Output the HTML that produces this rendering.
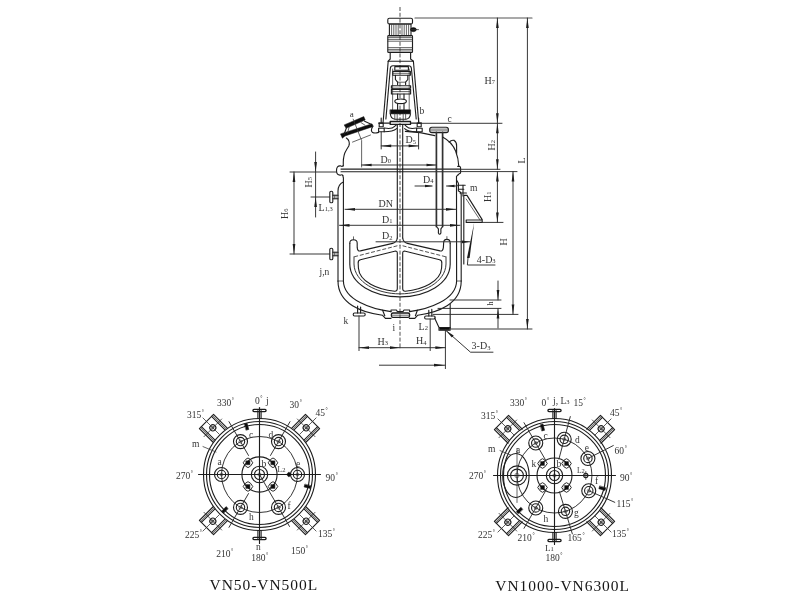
<!DOCTYPE html>
<html><head><meta charset="utf-8"><title>VN reactor</title>
<style>
html,body{margin:0;padding:0;background:#fff;}
body{width:800px;height:600px;overflow:hidden;font-family:"Liberation Serif",serif;}
svg{display:block;}
svg line,svg path,svg circle,svg ellipse,svg rect,svg polyline{fill:none;stroke:#1f1f1f;stroke-width:1.12;stroke-linecap:round;stroke-linejoin:round;}
svg .d{stroke:#2c2c2c;stroke-width:0.95;}
svg .t{stroke-width:0.75;stroke:#333;}
svg .k{stroke-width:1.3;stroke:#1a1a1a;}
svg .cl{stroke-dasharray:4 1.8;stroke-width:0.85;stroke:#333;stroke-linecap:butt;}
svg .b{fill:#111;stroke:#111;stroke-width:0.5;}
svg .ah{fill:#1e1e1e;stroke:none;}
svg .w{fill:#fff;}
svg text{font-family:"Liberation Serif",serif;fill:#333;stroke:none;}
</style></head><body>
<svg width="800" height="600" viewBox="0 0 800 600">
<rect x="0" y="0" width="800" height="600" style="fill:#fff;stroke:none"/>
<g filter="url(#soft)">
<g id="main">
<line x1="400.00" y1="7.00" x2="400.00" y2="349.00" class="cl"/>
<rect x="387.8" y="18.2" width="24.7" height="5.8" rx="1.6"/>
<rect x="389.4" y="24" width="21.6" height="11.6"/>
<line x1="391.60" y1="24.60" x2="391.60" y2="35.00" class="t"/>
<line x1="393.80" y1="24.60" x2="393.80" y2="35.00" class="t"/>
<line x1="396.00" y1="24.60" x2="396.00" y2="35.00" class="t"/>
<line x1="398.20" y1="24.60" x2="398.20" y2="35.00" class="t"/>
<line x1="402.00" y1="24.60" x2="402.00" y2="35.00" class="t"/>
<line x1="404.20" y1="24.60" x2="404.20" y2="35.00" class="t"/>
<line x1="406.40" y1="24.60" x2="406.40" y2="35.00" class="t"/>
<line x1="408.60" y1="24.60" x2="408.60" y2="35.00" class="t"/>
<ellipse class="b" cx="413.4" cy="29.6" rx="2.9" ry="2.1"/>
<line x1="411.00" y1="29.60" x2="418.50" y2="29.60" class="t"/>
<rect x="387.8" y="35.6" width="24.7" height="16.9" rx="0.8"/>
<line x1="388.00" y1="37.60" x2="412.30" y2="37.60" class="t"/>
<line x1="388.00" y1="39.40" x2="412.30" y2="39.40" class="t"/>
<line x1="388.00" y1="41.20" x2="412.30" y2="41.20" class="t"/>
<line x1="388.00" y1="47.60" x2="412.30" y2="47.60" class="t"/>
<line x1="388.00" y1="49.40" x2="412.30" y2="49.40" class="t"/>
<line x1="388.00" y1="51.00" x2="412.30" y2="51.00" class="t"/>
<path d="M390.2 52.5 L390.2 59 L388.2 61.2 M410.6 52.5 L410.6 59 L413.4 61.2"/>
<line x1="388.20" y1="61.20" x2="413.40" y2="61.20"/>
<path d="M388.2 61.2 L383.2 121 L383 123.1 M413.4 61.2 L418.6 121 L418.9 123.1"/>
<path d="M385.9 119 L390.3 68.5 Q390.5 65.8 393 65.8 L408.6 65.8 Q411.2 65.8 411.4 68.5 L416.2 119"/>
<path class="t" d="M392.6 109.6 L392.6 69 M409.2 109.6 L409.2 69"/>
<rect x="394.8" y="66.6" width="13.6" height="3.6"/>
<rect x="392.8" y="71.4" width="17.6" height="3.8"/>
<line x1="392.80" y1="73.30" x2="410.40" y2="73.30" class="t"/>
<path d="M395.4 75.2 L395.4 79.5 L397.6 82.2 L397.6 84.6 M407.8 75.2 L407.8 79.5 L405.6 82.2 L405.6 84.6"/>
<line x1="397.60" y1="82.20" x2="405.60" y2="82.20" class="t"/>
<rect x="391.4" y="85.8" width="19.2" height="2.4"/>
<rect x="391.4" y="89.4" width="19.2" height="4.6"/>
<line x1="391.40" y1="91.60" x2="410.60" y2="91.60" class="t"/>
<path d="M397.6 94 L397.6 99.2 M404 94 L404 99.2 M397.6 103.4 L397.6 109.6 M404 103.4 L404 109.6"/>
<ellipse cx="400.6" cy="101.3" rx="5.8" ry="2.3" class="w"/>
<rect class="b" x="390.2" y="109.8" width="20.4" height="4.1"/>
<path d="M390.4 114 Q390.6 118.6 395 119.2 L406 119.2 Q410.2 118.6 410.4 114"/>
<path class="t" d="M394.8 114 L394.8 119 M397.2 114 L397.2 121.4 M403.2 114 L403.2 121.4 M405.6 114 L405.6 119"/>
<rect class="k" x="390.2" y="121.5" width="20.3" height="2.9"/>
<line x1="378.60" y1="123.10" x2="390.20" y2="123.10"/>
<line x1="410.50" y1="123.10" x2="421.40" y2="123.10"/>
<rect x="379.2" y="123.1" width="4" height="3.6"/><rect x="378.6" y="128.2" width="5.6" height="3.6"/>
<rect x="417.2" y="123.1" width="4" height="3.6"/><rect x="416.6" y="128.2" width="5.6" height="3.6"/>
<line x1="381.20" y1="118.00" x2="381.20" y2="123.00"/>
<line x1="418.60" y1="118.00" x2="418.60" y2="123.00"/>
<path d="M384.2 128 Q392 129.4 394.6 126.4 L396.6 124.6 M416.6 128 Q409 129.4 406.4 126.4 L404.6 124.6"/>
<path d="M384.2 131.8 Q393 131.6 396.6 128.6 M416.6 131.8 Q408 131.6 404.6 128.6"/>
<path d="M397.3 124.6 L397.3 238 M402.7 124.6 L402.7 238"/>
<polygon class="b" points="344.2,124.9 363.8,116.6 365.2,120 346.1,128.3"/>
<polygon class="b" points="340.5,133.9 372,123.8 373.4,126.4 345,136 342.4,138.2"/>
<path d="M346.3 128.2 L344.2 134 M364.6 121.2 L370.6 123.9"/>
<path class="t" d="M349 127.4 L347.6 133 M361 122.6 L365 125.2"/>
<path class="t" d="M353.2 119.2 L361.6 140.4 L361.6 167"/>
<line x1="352.50" y1="142.10" x2="370.50" y2="135.00" class="t"/>
<path d="M372.6 126.6 Q370.2 130.6 372.6 132.6 Q375 133.6 378.6 132.4"/>
<path d="M346.4 138 Q350.6 141.2 348.8 146 Q346.6 149.4 344.8 153 Q343 158 343.3 165.8"/>
<path d="M343.3 165.8 Q342 166.8 340.6 165.9 Q336.5 165.4 336.5 170.5 Q336.5 175.6 340.6 175.1 Q342 174.2 342.8 175.4"/>
<line x1="341.00" y1="169.10" x2="460.00" y2="169.10"/>
<line x1="341.00" y1="171.80" x2="460.00" y2="171.80"/>
<path d="M457.7 166.4 L459.4 166.4 Q460.6 166.6 460.6 168 L460.6 172.4 Q460.6 173.6 459.4 173.6 L458.3 174.6"/>
<path d="M405.4 131.4 Q420 132 434.8 135.6"/>
<rect x="429.7" y="127.3" width="18.7" height="5.3" rx="2.2"/>
<line x1="430.40" y1="129.10" x2="447.80" y2="129.10" class="t"/>
<line x1="430.40" y1="130.90" x2="447.80" y2="130.90" class="t"/>
<path style="stroke-width:1.7;stroke:#333" d="M436.4 132.4 L436.4 226.5 M442.6 132.4 L442.6 226.5"/>
<path d="M436.4 226.5 L438.4 228.8 L438.4 233 Q439.6 235.6 440.9 233 L440.9 228.8 L442.6 226.5"/>
<path d="M443 137.2 Q452 142 455.6 151 Q458.4 158 458.8 166.4"/>
<path d="M449.2 142.2 Q451.4 139.6 454.2 140.4 Q456.8 142 456.6 146 L456.6 153.6"/>
<path d="M342.8 175.4 L343.4 178 L343.4 281 M456.5 180 L456.6 281"/>
<path d="M343.4 182 Q338 184.4 338 191 L338 281"/>
<path d="M458.3 174.6 L456.5 176.4 L456.5 180 L458.4 183.2 L458.4 191 Q461 191.4 461.2 194.6 L461.2 281"/>
<line x1="338.00" y1="281.00" x2="343.40" y2="281.00" class="t"/>
<line x1="456.60" y1="281.00" x2="461.20" y2="281.00" class="t"/>
<path d="M343.4 281 C343.6 300 372 309.4 391 311.6 M456.6 281 C456.4 300 428 309.4 409.6 311.6"/>
<path d="M338 281 C338 304 362 312.6 382.4 315.2 L385.4 318.4 L391 318.4 M461.2 281 C461.2 304 438 312.6 417.8 315.2 L414.8 318.4 L409.4 318.4"/>
<path d="M382.6 310.2 L384.8 315.8 M417.4 310.2 L415.4 315.8"/>
<rect class="k" x="391.4" y="313" width="18.2" height="4.4" rx="1.6"/>
<line x1="391.60" y1="315.20" x2="409.40" y2="315.20" class="t"/>
<path d="M391 311.6 L391 310 L396.4 310 L397.4 311.6 L403 311.6 L404 310 L409.6 310 L409.6 311.6"/>
<rect x="329.8" y="191.2" width="3" height="11.6" rx="1.4"/>
<path d="M332.8 195.2 L338 195.2 M332.8 198.8 L338 198.8"/>
<path class="t" d="M334.4 195.2 L334.4 198.8 M336 195.2 L336 198.8"/>
<rect x="329.8" y="248.2" width="3" height="11.6" rx="1.4"/>
<path d="M332.8 252.2 L338 252.2 M332.8 255.8 L338 255.8"/>
<path class="t" d="M334.4 252.2 L334.4 255.8 M336 252.2 L336 255.8"/>
<path d="M357.6 306 L357.6 313 M360.6 307 L360.6 313"/>
<rect x="353.2" y="313" width="12" height="3" rx="1.4"/>
<path d="M428.8 310.4 L428.8 316 M431.8 309.4 L431.8 316"/>
<rect x="424.6" y="316" width="10.6" height="3" rx="1.4"/>
<path d="M434.6 318 L439 327.6 L450.2 327.6 M439 330.2 L450.2 330.2 M439 327.6 L439 330.2"/>
<rect class="b" x="440" y="328" width="9.6" height="1.8"/>
<line x1="450.20" y1="304.50" x2="450.20" y2="329.20"/>
<path d="M457.6 185.3 L465.2 185.3 M458.4 189.3 L463.8 189.3 M460 193 L466.4 193 M463 185 L463 196"/>
<path d="M463.8 196 L463.8 264 M463.8 195.4 L467 195.4 L482.2 219.6 L482.2 222.4 L466.2 222.4 L466.2 220 L482 220"/>
<path class="t" d="M466.2 199 L480 220"/>
<path d="M349.8 243.2 Q349.8 239.8 353.5 239.8 Q357.2 239.8 357.2 243.2 L357.2 247.4 Q357.4 251.4 360.4 250.9 L392.6 243.4 Q396.8 242.4 397.3 238"/>
<path d="M450.2 243.2 Q450.2 239.4 446.9 239.4 Q443.6 239.4 443.6 243.2 L443.4 247.4 Q443 251.4 440 250.9 L407.4 243.4 Q403.2 242.4 402.7 238"/>
<path d="M349.8 243.2 L349.8 264 C350 284 374 296.8 400 296.9 C426 296.8 450 284 450.2 264 L450.2 243.2"/>
<path style="stroke-width:0.9" d="M354 256.8 L354 264 C354.4 282 376.5 293.8 400 293.9 C423.5 293.8 445.6 282 446 264 L446 256.8"/>
<path d="M360.4 259.8 L394.6 251.2 Q397.3 250.6 397.3 253 L397.3 288.4 Q397.3 291.4 394.6 291.2 C378 289.8 359.4 282 358.4 268 L358.2 263.4 Q357.8 260.6 360.4 259.8 Z"/>
<path d="M439.6 259.8 L405.4 251.2 Q402.7 250.6 402.7 253 L402.7 288.4 Q402.7 291.4 405.4 291.2 C422 289.8 440.6 282 441.6 268 L441.8 263.4 Q442.2 260.6 439.6 259.8 Z"/>
<path class="cl" d="M354.2 256.8 L399.6 245.2 M445.8 256.8 L400.4 245.2"/>
<line x1="353.50" y1="236.80" x2="353.50" y2="239.80" class="t"/>
<line x1="446.90" y1="236.60" x2="446.90" y2="239.40" class="t"/>
<line x1="415" y1="18" x2="532" y2="18" style="stroke:#555;stroke-width:1.2"/>
<line x1="497.40" y1="18.00" x2="497.40" y2="123.30" class="d"/>
<polygon class="ah" points="497.40,18.00 498.75,28.00 496.05,28.00"/>
<polygon class="ah" points="497.40,123.30 496.05,113.30 498.75,113.30"/>
<line x1="421.40" y1="123.30" x2="502.00" y2="123.30" class="d"/>
<line x1="497.40" y1="123.30" x2="497.40" y2="169.30" class="d"/>
<polygon class="ah" points="497.40,123.30 498.75,133.30 496.05,133.30"/>
<polygon class="ah" points="497.40,169.30 496.05,159.30 498.75,159.30"/>
<line x1="461.00" y1="169.30" x2="500.00" y2="169.30" class="d"/>
<line x1="461.00" y1="171.60" x2="517.00" y2="171.60" class="d"/>
<line x1="497.40" y1="171.60" x2="497.40" y2="222.40" class="d"/>
<polygon class="ah" points="497.40,171.60 498.75,181.60 496.05,181.60"/>
<polygon class="ah" points="497.40,222.40 496.05,212.40 498.75,212.40"/>
<line x1="482.00" y1="222.40" x2="503.00" y2="222.40" class="d"/>
<line x1="513.00" y1="171.60" x2="513.00" y2="314.40" class="d"/>
<polygon class="ah" points="513.00,171.60 514.35,181.60 511.65,181.60"/>
<polygon class="ah" points="513.00,314.40 511.65,304.40 514.35,304.40"/>
<line x1="527.40" y1="18.00" x2="527.40" y2="329.00" class="d"/>
<polygon class="ah" points="527.40,18.00 528.75,28.00 526.05,28.00"/>
<polygon class="ah" points="527.40,329.00 526.05,319.00 528.75,319.00"/>
<line x1="433.00" y1="314.40" x2="518.00" y2="314.40" class="d"/>
<line x1="450.20" y1="329.00" x2="532.00" y2="329.00" class="d"/>
<line x1="450.00" y1="300.00" x2="501.00" y2="300.00" class="d"/>
<line x1="438.00" y1="308.40" x2="501.00" y2="308.40" class="d"/>
<line x1="498.00" y1="281.00" x2="498.00" y2="300.00" class="d"/>
<polygon class="ah" points="498.00,300.00 496.65,290.00 499.35,290.00"/>
<line x1="498.00" y1="308.40" x2="498.00" y2="328.00" class="d"/>
<polygon class="ah" points="498.00,308.40 499.35,318.40 496.65,318.40"/>
<line x1="290.00" y1="172.00" x2="336.50" y2="172.00" class="d"/>
<line x1="294.00" y1="172.00" x2="294.00" y2="254.00" class="d"/>
<polygon class="ah" points="294.00,172.00 295.35,182.00 292.65,182.00"/>
<polygon class="ah" points="294.00,254.00 292.65,244.00 295.35,244.00"/>
<line x1="290.00" y1="254.00" x2="329.80" y2="254.00" class="d"/>
<line x1="315.60" y1="152.00" x2="315.60" y2="197.00" class="d"/>
<polygon class="ah" points="315.60,172.00 314.25,162.00 316.95,162.00"/>
<line x1="315.60" y1="197.00" x2="315.60" y2="217.00" class="d"/>
<polygon class="ah" points="315.60,197.00 316.95,207.00 314.25,207.00"/>
<line x1="311.00" y1="197.00" x2="329.80" y2="197.00" class="d"/>
<line x1="345.00" y1="209.30" x2="456.00" y2="209.30" class="d"/>
<polygon class="ah" points="345.00,209.30 355.00,207.95 355.00,210.65"/>
<polygon class="ah" points="456.00,209.30 446.00,210.65 446.00,207.95"/>
<line x1="339.50" y1="225.30" x2="460.00" y2="225.30" class="d"/>
<polygon class="ah" points="339.50,225.30 349.50,223.95 349.50,226.65"/>
<polygon class="ah" points="460.00,225.30 450.00,226.65 450.00,223.95"/>
<line x1="376.00" y1="241.80" x2="470.00" y2="241.80" class="d"/>
<polygon class="ah" points="470.00,241.80 462.00,243.15 462.00,240.45"/>
<line x1="361.60" y1="165.00" x2="436.50" y2="165.00" class="d"/>
<polygon class="ah" points="361.60,165.00 371.60,163.65 371.60,166.35"/>
<polygon class="ah" points="436.50,165.00 426.50,166.35 426.50,163.65"/>
<line x1="381.20" y1="132.00" x2="381.20" y2="149.00" class="d"/>
<line x1="418.60" y1="132.00" x2="418.60" y2="149.00" class="d"/>
<line x1="381.20" y1="145.90" x2="418.60" y2="145.90" class="d"/>
<polygon class="ah" points="381.20,145.90 391.20,144.55 391.20,147.25"/>
<polygon class="ah" points="418.60,145.90 408.60,147.25 408.60,144.55"/>
<line x1="415.00" y1="186.00" x2="432.00" y2="186.00" class="d"/>
<polygon class="ah" points="433.00,186.00 425.00,187.35 425.00,184.65"/>
<line x1="446.50" y1="186.00" x2="457.00" y2="186.00" class="d"/>
<polygon class="ah" points="446.50,186.00 454.50,184.65 454.50,187.35"/>
<line x1="359.00" y1="316.00" x2="359.00" y2="350.60" class="d"/>
<line x1="430.20" y1="319.00" x2="430.20" y2="350.60" class="d"/>
<line x1="445.40" y1="330.00" x2="445.40" y2="368.60" class="d"/>
<line x1="359.00" y1="347.70" x2="400.00" y2="347.70" class="d"/>
<polygon class="ah" points="359.00,347.70 369.00,346.35 369.00,349.05"/>
<polygon class="ah" points="400.00,347.70 390.00,349.05 390.00,346.35"/>
<line x1="400.00" y1="347.70" x2="445.40" y2="347.70" class="d"/>
<polygon class="ah" points="445.40,347.70 435.40,349.05 435.40,346.35"/>
<line x1="379.40" y1="365.20" x2="445.00" y2="365.20" class="d"/>
<polygon class="ah" points="445.00,365.20 434.00,366.55 434.00,363.85"/>
<path class="d" d="M495 265 L467.4 265 L468 258"/>
<polygon class="ah" points="474.2,222.6 469.6,258 467,258"/>
<path class="d" d="M493 352.2 L470.5 352.2 L446 330.6"/>
<polygon class="ah" points="446.00,330.60 453.68,335.50 451.83,337.60"/>
<text x="349.8" y="116.8" font-size="9" text-anchor="start">a</text>
<text x="419.4" y="113.6" font-size="9.5" text-anchor="start">b</text>
<text x="447.6" y="122.0" font-size="9.5" text-anchor="start">c</text>
<text x="405.6" y="143.4" font-size="10" text-anchor="start">D<tspan font-size="6.5" dy="0.3">5</tspan></text>
<text x="380.6" y="163.0" font-size="10" text-anchor="start">D<tspan font-size="6.5" dy="0.3">0</tspan></text>
<text x="423.0" y="182.6" font-size="10" text-anchor="start">D<tspan font-size="6.5" dy="0.3">4</tspan></text>
<text x="378.6" y="206.6" font-size="10" text-anchor="start">DN</text>
<text x="382.0" y="223.0" font-size="10" text-anchor="start">D<tspan font-size="6.5" dy="0.3">1</tspan></text>
<text x="382.0" y="239.4" font-size="10" text-anchor="start">D<tspan font-size="6.5" dy="0.3">2</tspan></text>
<text x="470.0" y="190.6" font-size="9.5" text-anchor="start">m</text>
<text x="318.6" y="211.0" font-size="10" text-anchor="start">L<tspan font-size="6.5" dy="0.3">1,3</tspan></text>
<text x="319.6" y="275.4" font-size="9.5" text-anchor="start">j,n</text>
<text x="343.6" y="323.6" font-size="9.5" text-anchor="start">k</text>
<text x="392.4" y="330.6" font-size="9.5" text-anchor="start">i</text>
<text x="418.6" y="329.8" font-size="10" text-anchor="start">L<tspan font-size="6.5" dy="0.3">2</tspan></text>
<text x="377.6" y="345.0" font-size="10" text-anchor="start">H<tspan font-size="6.5" dy="0.3">3</tspan></text>
<text x="416.0" y="344.4" font-size="10" text-anchor="start">H<tspan font-size="6.5" dy="0.3">4</tspan></text>
<text x="476.8" y="262.6" font-size="10" text-anchor="start">4-D<tspan font-size="6.5" dy="0.3">3</tspan></text>
<text x="471.6" y="349.4" font-size="10" text-anchor="start">3-D<tspan font-size="6.5" dy="0.3">3</tspan></text>
<text x="484.4" y="84.0" font-size="10" text-anchor="start">H<tspan font-size="6.5" dy="0.3">7</tspan></text>
<text x="495.0" y="150.4" font-size="10" text-anchor="start" transform="rotate(-90 495.0 150.4)">H<tspan font-size="6.5" dy="0.3">2</tspan></text>
<text x="491.0" y="202.0" font-size="10" text-anchor="start" transform="rotate(-90 491.0 202.0)">H<tspan font-size="6.5" dy="0.3">1</tspan></text>
<text x="506.8" y="245.4" font-size="10" text-anchor="start" transform="rotate(-90 506.8 245.4)">H</text>
<text x="524.6" y="163.6" font-size="10" text-anchor="start" transform="rotate(-90 524.6 163.6)">L</text>
<text x="493.4" y="305.6" font-size="8" text-anchor="start" transform="rotate(-90 493.4 305.6)">h</text>
<text x="312.0" y="187.6" font-size="10" text-anchor="start" transform="rotate(-90 312.0 187.6)">H<tspan font-size="6.5" dy="0.3">5</tspan></text>
<text x="288.2" y="219.0" font-size="10" text-anchor="start" transform="rotate(-90 288.2 219.0)">H<tspan font-size="6.5" dy="0.3">6</tspan></text>
</g>
<g>
<circle cx="259.5" cy="474.5" r="56"/>
<circle cx="259.5" cy="474.5" r="53"/>
<circle cx="259.5" cy="474.5" r="50"/>
<circle cx="259.5" cy="474.5" r="38" style="stroke-width:0.9"/>
<circle cx="259.5" cy="474.5" r="17.6"/>
<circle cx="259.50" cy="474.50" r="8.2"/><circle cx="259.50" cy="474.50" r="5"/><circle class="t" cx="259.50" cy="474.50" r="1.6500000000000001" style="stroke-width:0.6"/>
<line x1="198.50" y1="474.50" x2="320.50" y2="474.50"/>
<line x1="259.50" y1="407.50" x2="259.50" y2="543.50"/>
<rect class="k" x="252.9" y="409.3" width="13.2" height="2.4" rx="1.1"/>
<path d="M257.9 418.5 L257.9 410.5 M261.1 418.5 L261.1 410.5"/>
<rect class="k" x="252.9" y="537.3" width="13.2" height="2.4" rx="1.1"/>
<path d="M257.9 530.5 L257.9 538.5 M261.1 530.5 L261.1 538.5"/>
<g transform="translate(259.50 474.50) rotate(45)">
<path d="M-10 -55.6 L-10 -75 L10 -75 L10 -55.6"/>
<path class="t" d="M-8.6 -56 L-8.6 -75 M8.6 -56 L8.6 -75"/><path d="M-7.2 -56.4 L-7.2 -75 M7.2 -56.4 L7.2 -75"/>
<circle cx="0" cy="-66" r="3"/>
<circle class="t" cx="0" cy="-66" r="1.2"/>
<path class="t" d="M0 -57 L0 -80 M-12.5 -66 L12.5 -66"/>
</g>
<g transform="translate(259.50 474.50) rotate(135)">
<path d="M-10 -55.6 L-10 -75 L10 -75 L10 -55.6"/>
<path class="t" d="M-8.6 -56 L-8.6 -75 M8.6 -56 L8.6 -75"/><path d="M-7.2 -56.4 L-7.2 -75 M7.2 -56.4 L7.2 -75"/>
<circle cx="0" cy="-66" r="3"/>
<circle class="t" cx="0" cy="-66" r="1.2"/>
<path class="t" d="M0 -57 L0 -80 M-12.5 -66 L12.5 -66"/>
</g>
<g transform="translate(259.50 474.50) rotate(225)">
<path d="M-10 -55.6 L-10 -75 L10 -75 L10 -55.6"/>
<path class="t" d="M-8.6 -56 L-8.6 -75 M8.6 -56 L8.6 -75"/><path d="M-7.2 -56.4 L-7.2 -75 M7.2 -56.4 L7.2 -75"/>
<circle cx="0" cy="-66" r="3"/>
<circle class="t" cx="0" cy="-66" r="1.2"/>
<path class="t" d="M0 -57 L0 -80 M-12.5 -66 L12.5 -66"/>
</g>
<g transform="translate(259.50 474.50) rotate(315)">
<path d="M-10 -55.6 L-10 -75 L10 -75 L10 -55.6"/>
<path class="t" d="M-8.6 -56 L-8.6 -75 M8.6 -56 L8.6 -75"/><path d="M-7.2 -56.4 L-7.2 -75 M7.2 -56.4 L7.2 -75"/>
<circle cx="0" cy="-66" r="3"/>
<circle class="t" cx="0" cy="-66" r="1.2"/>
<path class="t" d="M0 -57 L0 -80 M-12.5 -66 L12.5 -66"/>
</g>
<circle cx="221.50" cy="474.50" r="7"/><circle cx="221.50" cy="474.50" r="4.2"/><circle class="t" cx="221.50" cy="474.50" r="1.5" style="stroke-width:0.6"/>
<circle cx="297.50" cy="474.50" r="7"/><circle cx="297.50" cy="474.50" r="4.2"/><circle class="t" cx="297.50" cy="474.50" r="1.5" style="stroke-width:0.6"/>
<circle cx="240.50" cy="441.59" r="7"/><circle cx="240.50" cy="441.59" r="4.2"/><circle class="t" cx="240.50" cy="441.59" r="1.5" style="stroke-width:0.6"/>
<line x1="248.50" y1="455.45" x2="229.00" y2="421.67" class="d"/>
<circle cx="278.50" cy="441.59" r="7"/><circle cx="278.50" cy="441.59" r="4.2"/><circle class="t" cx="278.50" cy="441.59" r="1.5" style="stroke-width:0.6"/>
<line x1="270.50" y1="455.45" x2="290.00" y2="421.67" class="d"/>
<circle cx="278.50" cy="507.41" r="7"/><circle cx="278.50" cy="507.41" r="4.2"/><circle class="t" cx="278.50" cy="507.41" r="1.5" style="stroke-width:0.6"/>
<line x1="259.50" y1="474.50" x2="289.50" y2="526.46" class="d"/>
<circle cx="240.50" cy="507.41" r="7"/><circle cx="240.50" cy="507.41" r="4.2"/><circle class="t" cx="240.50" cy="507.41" r="1.5" style="stroke-width:0.6"/>
<line x1="248.50" y1="493.55" x2="229.00" y2="527.33" class="d"/>
<rect class="b" x="246.10" y="460.90" width="3.8" height="3.8"/>
<polygon class="t" points="243.20,462.80 245.60,459.40 248.00,458.00 250.40,459.40 252.80,462.80 250.40,466.20 248.00,467.60 245.60,466.20" style="fill:none;stroke-width:0.95;stroke:#222"/>
<rect class="b" x="246.10" y="484.60" width="3.8" height="3.8"/>
<polygon class="t" points="243.20,486.50 245.60,483.10 248.00,481.70 250.40,483.10 252.80,486.50 250.40,489.90 248.00,491.30 245.60,489.90" style="fill:none;stroke-width:0.95;stroke:#222"/>
<rect class="b" x="271.10" y="460.90" width="3.8" height="3.8"/>
<polygon class="t" points="268.20,462.80 270.60,459.40 273.00,458.00 275.40,459.40 277.80,462.80 275.40,466.20 273.00,467.60 270.60,466.20" style="fill:none;stroke-width:0.95;stroke:#222"/>
<rect class="b" x="271.10" y="484.60" width="3.8" height="3.8"/>
<polygon class="t" points="268.20,486.50 270.60,483.10 273.00,481.70 275.40,483.10 277.80,486.50 275.40,489.90 273.00,491.30 270.60,489.90" style="fill:none;stroke-width:0.95;stroke:#222"/>
<g transform="translate(259.50 474.50) rotate(345)"><rect class="b" x="-1.3" y="-52.7" width="2.6" height="6.4"/></g>
<g transform="translate(259.50 474.50) rotate(104)"><rect class="b" x="-1.3" y="-52.7" width="2.6" height="6.4"/></g>
<g transform="translate(259.50 474.50) rotate(224.5)"><rect class="b" x="-1.3" y="-52.7" width="2.6" height="6.4"/></g>
</g>
<path class="t" d="M203 446.6 L216 452"/>
<polygon class="b" points="286.5,474.5 288.9,471.9 291.3,474.5 288.9,477.1"/>
<text x="217.0" y="405.6" font-size="9.5" text-anchor="start">330<tspan font-size="5.5" dy="-4" dx="0.6">°</tspan></text>
<text x="255.0" y="404.4" font-size="9.5" text-anchor="start">0<tspan font-size="5.5" dy="-4" dx="0.6">°</tspan></text>
<text x="266.0" y="404.0" font-size="9.5" text-anchor="start">j</text>
<text x="289.6" y="407.6" font-size="9.5" text-anchor="start">30<tspan font-size="5.5" dy="-4" dx="0.6">°</tspan></text>
<text x="315.4" y="415.6" font-size="9.5" text-anchor="start">45<tspan font-size="5.5" dy="-4" dx="0.6">°</tspan></text>
<text x="187.0" y="418.4" font-size="9.5" text-anchor="start">315<tspan font-size="5.5" dy="-4" dx="0.6">°</tspan></text>
<text x="192.0" y="446.6" font-size="9.5" text-anchor="start">m</text>
<text x="217.6" y="465.0" font-size="9.5" text-anchor="start">a</text>
<text x="249.0" y="438.4" font-size="9.5" text-anchor="start">c</text>
<text x="268.4" y="438.0" font-size="9.5" text-anchor="start">d</text>
<text x="261.6" y="467.0" font-size="9.5" text-anchor="start">b</text>
<text x="277.6" y="471.6" font-size="7.5" text-anchor="start">L<tspan font-size="6.5" dy="0.3">2</tspan></text>
<text x="296.0" y="467.0" font-size="9.5" text-anchor="start">e</text>
<text x="176.0" y="479.0" font-size="9.5" text-anchor="start">270<tspan font-size="5.5" dy="-4" dx="0.6">°</tspan></text>
<text x="325.6" y="481.4" font-size="9.5" text-anchor="start">90<tspan font-size="5.5" dy="-4" dx="0.6">°</tspan></text>
<text x="287.6" y="509.0" font-size="9.5" text-anchor="start">f</text>
<text x="249.0" y="520.0" font-size="9.5" text-anchor="start">h</text>
<text x="318.0" y="536.6" font-size="9.5" text-anchor="start">135<tspan font-size="5.5" dy="-4" dx="0.6">°</tspan></text>
<text x="185.0" y="538.0" font-size="9.5" text-anchor="start">225<tspan font-size="5.5" dy="-4" dx="0.6">°</tspan></text>
<text x="216.2" y="557.0" font-size="9.5" text-anchor="start">210<tspan font-size="5.5" dy="-4" dx="0.6">°</tspan></text>
<text x="256.0" y="550.0" font-size="9.5" text-anchor="start">n</text>
<text x="251.2" y="560.8" font-size="9.5" text-anchor="start">180<tspan font-size="5.5" dy="-4" dx="0.6">°</tspan></text>
<text x="291.0" y="554.3" font-size="9.5" text-anchor="start">150<tspan font-size="5.5" dy="-4" dx="0.6">°</tspan></text>
<text x="263.8" y="590.0" font-size="15.5" text-anchor="middle" letter-spacing="0.95" style="fill:#151515">VN50-VN500L</text>
<g>
<circle cx="554.5" cy="475.5" r="57"/>
<circle cx="554.5" cy="475.5" r="54"/>
<circle cx="554.5" cy="475.5" r="51"/>
<circle cx="554.5" cy="475.5" r="37.5" style="stroke-width:0.9"/>
<circle cx="554.5" cy="475.5" r="17.5"/>
<circle cx="554.50" cy="475.50" r="8.2"/><circle cx="554.50" cy="475.50" r="5"/><circle class="t" cx="554.50" cy="475.50" r="1.6500000000000001" style="stroke-width:0.6"/>
<line x1="493.50" y1="475.50" x2="615.50" y2="475.50"/>
<line x1="554.50" y1="408.50" x2="554.50" y2="544.50"/>
<rect class="k" x="547.9" y="409.3" width="13.2" height="2.4" rx="1.1"/>
<path d="M552.9 418.5 L552.9 410.5 M556.1 418.5 L556.1 410.5"/>
<rect class="k" x="547.9" y="539.3" width="13.2" height="2.4" rx="1.1"/>
<path d="M552.9 532.5 L552.9 540.5 M556.1 532.5 L556.1 540.5"/>
<g transform="translate(554.50 475.50) rotate(45)">
<path d="M-10 -55.6 L-10 -75 L10 -75 L10 -55.6"/>
<path class="t" d="M-8.6 -56 L-8.6 -75 M8.6 -56 L8.6 -75"/><path d="M-7.2 -56.4 L-7.2 -75 M7.2 -56.4 L7.2 -75"/>
<circle cx="0" cy="-66" r="3"/>
<circle class="t" cx="0" cy="-66" r="1.2"/>
<path class="t" d="M0 -57 L0 -80 M-12.5 -66 L12.5 -66"/>
</g>
<g transform="translate(554.50 475.50) rotate(135)">
<path d="M-10 -55.6 L-10 -75 L10 -75 L10 -55.6"/>
<path class="t" d="M-8.6 -56 L-8.6 -75 M8.6 -56 L8.6 -75"/><path d="M-7.2 -56.4 L-7.2 -75 M7.2 -56.4 L7.2 -75"/>
<circle cx="0" cy="-66" r="3"/>
<circle class="t" cx="0" cy="-66" r="1.2"/>
<path class="t" d="M0 -57 L0 -80 M-12.5 -66 L12.5 -66"/>
</g>
<g transform="translate(554.50 475.50) rotate(225)">
<path d="M-10 -55.6 L-10 -75 L10 -75 L10 -55.6"/>
<path class="t" d="M-8.6 -56 L-8.6 -75 M8.6 -56 L8.6 -75"/><path d="M-7.2 -56.4 L-7.2 -75 M7.2 -56.4 L7.2 -75"/>
<circle cx="0" cy="-66" r="3"/>
<circle class="t" cx="0" cy="-66" r="1.2"/>
<path class="t" d="M0 -57 L0 -80 M-12.5 -66 L12.5 -66"/>
</g>
<g transform="translate(554.50 475.50) rotate(315)">
<path d="M-10 -55.6 L-10 -75 L10 -75 L10 -55.6"/>
<path class="t" d="M-8.6 -56 L-8.6 -75 M8.6 -56 L8.6 -75"/><path d="M-7.2 -56.4 L-7.2 -75 M7.2 -56.4 L7.2 -75"/>
<circle cx="0" cy="-66" r="3"/>
<circle class="t" cx="0" cy="-66" r="1.2"/>
<path class="t" d="M0 -57 L0 -80 M-12.5 -66 L12.5 -66"/>
</g>
<circle cx="535.75" cy="443.02" r="7"/><circle cx="535.75" cy="443.02" r="4.2"/><circle class="t" cx="535.75" cy="443.02" r="1.5" style="stroke-width:0.6"/>
<line x1="546.00" y1="460.78" x2="524.00" y2="422.67" class="d"/>
<circle cx="564.21" cy="439.28" r="7"/><circle cx="564.21" cy="439.28" r="4.2"/><circle class="t" cx="564.21" cy="439.28" r="1.5" style="stroke-width:0.6"/>
<line x1="558.90" y1="459.08" x2="570.29" y2="416.58" class="d"/>
<circle cx="587.91" cy="458.48" r="7"/><circle cx="587.91" cy="458.48" r="4.2"/><circle class="t" cx="587.91" cy="458.48" r="1.5" style="stroke-width:0.6"/>
<line x1="587.91" y1="458.48" x2="613.31" y2="445.54" class="d"/>
<circle cx="588.76" cy="490.75" r="7"/><circle cx="588.76" cy="490.75" r="4.2"/><circle class="t" cx="588.76" cy="490.75" r="1.5" style="stroke-width:0.6"/>
<line x1="588.76" y1="490.75" x2="614.79" y2="502.34" class="d"/>
<circle cx="565.46" cy="511.36" r="7"/><circle cx="565.46" cy="511.36" r="4.2"/><circle class="t" cx="565.46" cy="511.36" r="1.5" style="stroke-width:0.6"/>
<line x1="559.47" y1="491.76" x2="572.33" y2="533.83" class="d"/>
<circle cx="535.75" cy="507.98" r="7"/><circle cx="535.75" cy="507.98" r="4.2"/><circle class="t" cx="535.75" cy="507.98" r="1.5" style="stroke-width:0.6"/>
<line x1="546.00" y1="490.22" x2="524.00" y2="528.33" class="d"/>
<rect class="b" x="540.60" y="461.60" width="3.8" height="3.8"/>
<polygon class="t" points="537.70,463.50 540.10,460.10 542.50,458.70 544.90,460.10 547.30,463.50 544.90,466.90 542.50,468.30 540.10,466.90" style="fill:none;stroke-width:0.95;stroke:#222"/>
<rect class="b" x="540.60" y="485.60" width="3.8" height="3.8"/>
<polygon class="t" points="537.70,487.50 540.10,484.10 542.50,482.70 544.90,484.10 547.30,487.50 544.90,490.90 542.50,492.30 540.10,490.90" style="fill:none;stroke-width:0.95;stroke:#222"/>
<rect class="b" x="564.60" y="461.60" width="3.8" height="3.8"/>
<polygon class="t" points="561.70,463.50 564.10,460.10 566.50,458.70 568.90,460.10 571.30,463.50 568.90,466.90 566.50,468.30 564.10,466.90" style="fill:none;stroke-width:0.95;stroke:#222"/>
<rect class="b" x="564.60" y="485.60" width="3.8" height="3.8"/>
<polygon class="t" points="561.70,487.50 564.10,484.10 566.50,482.70 568.90,484.10 571.30,487.50 568.90,490.90 566.50,492.30 564.10,490.90" style="fill:none;stroke-width:0.95;stroke:#222"/>
<g transform="translate(554.50 475.50) rotate(346)"><rect class="b" x="-1.3" y="-52.7" width="2.6" height="6.4"/></g>
<g transform="translate(554.50 475.50) rotate(105)"><rect class="b" x="-1.3" y="-52.7" width="2.6" height="6.4"/></g>
<g transform="translate(554.50 475.50) rotate(225)"><rect class="b" x="-1.3" y="-52.7" width="2.6" height="6.4"/></g>
</g>
<ellipse cx="515.9" cy="475.5" rx="13.2" ry="22"/>
<circle cx="517.00" cy="475.50" r="9.6"/><circle cx="517.00" cy="475.50" r="6.4"/><circle class="t" cx="517.00" cy="475.50" r="2.25" style="stroke-width:0.6"/>
<path class="t" d="M517.0 448.5 L517.0 502.5"/>
<circle cx="585.8" cy="475.5" r="2.1"/>
<line x1="585.80" y1="471.50" x2="585.80" y2="479.50" class="t"/>
<path class="t" d="M500 450.6 L510.6 455"/>
<text x="510.0" y="405.6" font-size="9.5" text-anchor="start">330<tspan font-size="5.5" dy="-4" dx="0.6">°</tspan></text>
<text x="541.6" y="405.6" font-size="9.5" text-anchor="start">0<tspan font-size="5.5" dy="-4" dx="0.6">°</tspan></text>
<text x="553.0" y="403.6" font-size="9.5" text-anchor="start">j, L<tspan font-size="6.5" dy="0.3">3</tspan></text>
<text x="573.4" y="405.6" font-size="9.5" text-anchor="start">15<tspan font-size="5.5" dy="-4" dx="0.6">°</tspan></text>
<text x="610.0" y="415.6" font-size="9.5" text-anchor="start">45<tspan font-size="5.5" dy="-4" dx="0.6">°</tspan></text>
<text x="481.0" y="418.6" font-size="9.5" text-anchor="start">315<tspan font-size="5.5" dy="-4" dx="0.6">°</tspan></text>
<text x="488.0" y="452.0" font-size="9.5" text-anchor="start">m</text>
<text x="516.0" y="453.0" font-size="9.5" text-anchor="start">a</text>
<text x="543.6" y="438.6" font-size="9.5" text-anchor="start">c</text>
<text x="575.0" y="443.0" font-size="9.5" text-anchor="start">d</text>
<text x="584.8" y="451.4" font-size="9.5" text-anchor="start">e</text>
<text x="614.6" y="454.0" font-size="9.5" text-anchor="start">60<tspan font-size="5.5" dy="-4" dx="0.6">°</tspan></text>
<text x="531.6" y="467.0" font-size="9.5" text-anchor="start">k</text>
<text x="556.6" y="467.0" font-size="9.5" text-anchor="start">b</text>
<text x="577.0" y="472.6" font-size="7.5" text-anchor="start">L<tspan font-size="6.5" dy="0.3">2</tspan></text>
<text x="595.0" y="484.4" font-size="9.5" text-anchor="start">f</text>
<text x="620.0" y="481.4" font-size="9.5" text-anchor="start">90<tspan font-size="5.5" dy="-4" dx="0.6">°</tspan></text>
<text x="469.0" y="479.0" font-size="9.5" text-anchor="start">270<tspan font-size="5.5" dy="-4" dx="0.6">°</tspan></text>
<text x="616.6" y="506.6" font-size="9.5" text-anchor="start">115<tspan font-size="5.5" dy="-4" dx="0.6">°</tspan></text>
<text x="543.6" y="521.6" font-size="9.5" text-anchor="start">h</text>
<text x="574.0" y="516.0" font-size="9.5" text-anchor="start">g</text>
<text x="612.0" y="537.0" font-size="9.5" text-anchor="start">135<tspan font-size="5.5" dy="-4" dx="0.6">°</tspan></text>
<text x="478.0" y="538.4" font-size="9.5" text-anchor="start">225<tspan font-size="5.5" dy="-4" dx="0.6">°</tspan></text>
<text x="517.6" y="541.0" font-size="9.5" text-anchor="start">210<tspan font-size="5.5" dy="-4" dx="0.6">°</tspan></text>
<text x="567.6" y="541.0" font-size="9.5" text-anchor="start">165<tspan font-size="5.5" dy="-4" dx="0.6">°</tspan></text>
<text x="545.0" y="551.0" font-size="9" text-anchor="start">L<tspan font-size="6.5" dy="0.3">1</tspan></text>
<text x="545.4" y="561.4" font-size="9.5" text-anchor="start">180<tspan font-size="5.5" dy="-4" dx="0.6">°</tspan></text>
<text x="562.6" y="591.0" font-size="15.5" text-anchor="middle" letter-spacing="0.95" style="fill:#151515">VN1000-VN6300L</text>
</g>
<defs><filter id="soft" x="0" y="0" width="800" height="600" filterUnits="userSpaceOnUse"><feGaussianBlur stdDeviation="0.42"/></filter></defs>
</svg>
</body></html>
